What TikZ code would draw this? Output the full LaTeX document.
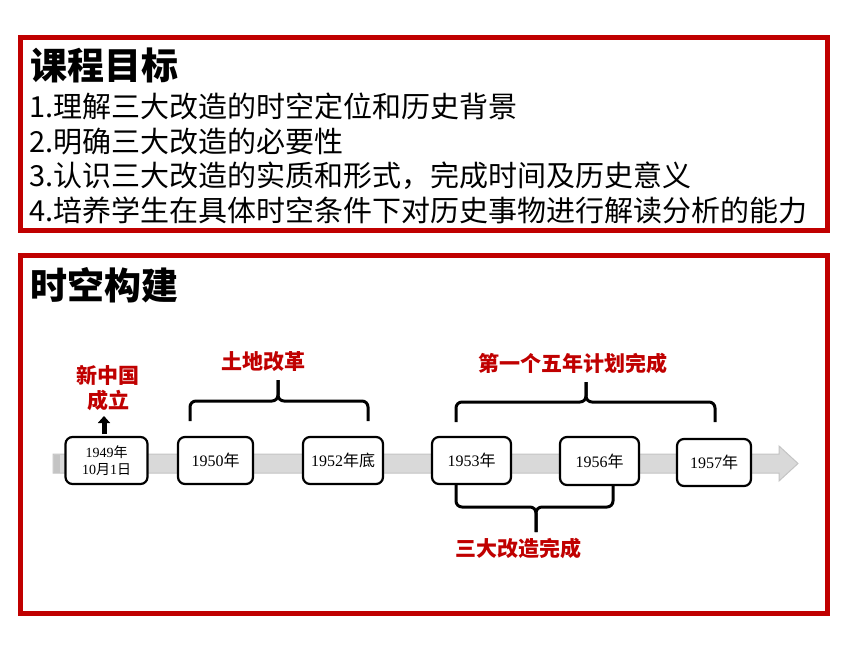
\documentclass[tikz,border=0pt]{standalone}
\usepackage{fontspec}
\setmainfont{Liberation Serif}
\newfontfamily\cjk{Noto Sans CJK SC}
\usetikzlibrary{arrows.meta}
\definecolor{framered}{HTML}{C00000}
\definecolor{bandgray}{HTML}{D9D9D9}
\definecolor{bandline}{HTML}{C4C4C4}
\tikzset{
  frame/.style={draw=framered, line width=5pt},
  heading/.style={anchor=base west, inner sep=0pt, font=\cjk\bfseries\fontsize{37}{37}\selectfont},
  goal/.style={anchor=base west, inner sep=0pt, font=\cjk\fontsize{29}{29}\selectfont},
  datebox/.style={draw=black, line width=2.2pt, rounded corners=7pt, fill=white, inner sep=0pt, font=\fontsize{16}{17}\selectfont},
  redlabel/.style={text=framered, inner sep=0pt, align=center, font=\cjk\bfseries\fontsize{21}{25}\selectfont},
  bracestyle/.style={draw=black, line width=3pt, rounded corners=6pt},
  uparrow/.style={draw=black, line width=5pt, -{Triangle[width=12pt,length=7pt]}}
}
\begin{document}
\begin{tikzpicture}[x=1pt,y=-1pt]
\useasboundingbox (0,0) rectangle (860,645);
\fill[white] (0,0) rectangle (860,645);
% frames
\draw[frame] (20.5,37.5) rectangle (827.5,230.5);
\draw[frame] (20.5,255.5) rectangle (827.5,613.5);
% top texts
\node[heading] (t1) at (30,79) {课程目标};
\node[goal] (g1) at (29,117) {1.理解三大改造的时空定位和历史背景};
\node[goal] (g2) at (29,152) {2.明确三大改造的必要性};
\node[goal] (g3) at (29,186.5) {3.认识三大改造的实质和形式，完成时间及历史意义};
\node[goal] (g4) at (29,221) {4.培养学生在具体时空条件下对历史事物进行解读分析的能力};
\node[heading] (t2) at (30,299) {时空构建};
% timeline band
\filldraw[fill=bandgray, draw=bandline, line width=1pt]
  (53,454) -- (779,454) -- (779,446) -- (798,463.5) -- (779,481) -- (779,473) -- (53,473) -- cycle;
\fill[bandline] (53.5,454.5) rectangle (60,472.5);
% date boxes
\node[datebox, minimum width=82pt, minimum height=47pt, align=center, font=\fontsize{14}{17}\selectfont] (d1949) at (106.5,460.5) {1949{\cjk 年}\\10{\cjk 月}1{\cjk 日}};
\node[datebox, minimum width=75pt, minimum height=47pt] (d1950) at (215.5,460.5) {1950{\cjk 年}};
\node[datebox, minimum width=80pt, minimum height=47pt] (d1952) at (343,460.5) {1952{\cjk 年底}};
\node[datebox, minimum width=79pt, minimum height=47pt] (d1953) at (471.5,460.5) {1953{\cjk 年}};
\node[datebox, minimum width=79pt, minimum height=48pt] (d1956) at (599.5,461) {1956{\cjk 年}};
\node[datebox, minimum width=74pt, minimum height=47pt] (d1957) at (714,462.5) {1957{\cjk 年}};
% labels
\node[redlabel] (lprc) at (108,388) {新中国\\成立};
\node[redlabel] (lland) at (263,362) {土地改革};
\node[redlabel] (lfive) at (573,363) {第一个五年计划完成};
\node[redlabel] (lthree) at (518,548) {三大改造完成};
% up arrow
\coordinate (arrS) at (104,434);
\coordinate (arrE) at (104,416);
\draw[uparrow] (arrS) -- (arrE);
% brace: land reform
\draw[bracestyle] (190,421) -- (190,401) -- (278,401) -- (278,380);
\draw[bracestyle] (368,421) -- (368,401) -- (278,401) -- (278,380);
% brace: five-year plan
\draw[bracestyle] (456,422) -- (456,402) -- (586,402) -- (586,382);
\draw[bracestyle] (715,422) -- (715,402) -- (586,402) -- (586,382);
% brace: three transformations
\draw[bracestyle] (d1953.south -| 456,0) -- (456,507) -- (536,507) -- (536,532);
\draw[bracestyle] (d1956.south -| 613,0) -- (613,507) -- (536,507) -- (536,532);
\end{tikzpicture}
\end{document}
